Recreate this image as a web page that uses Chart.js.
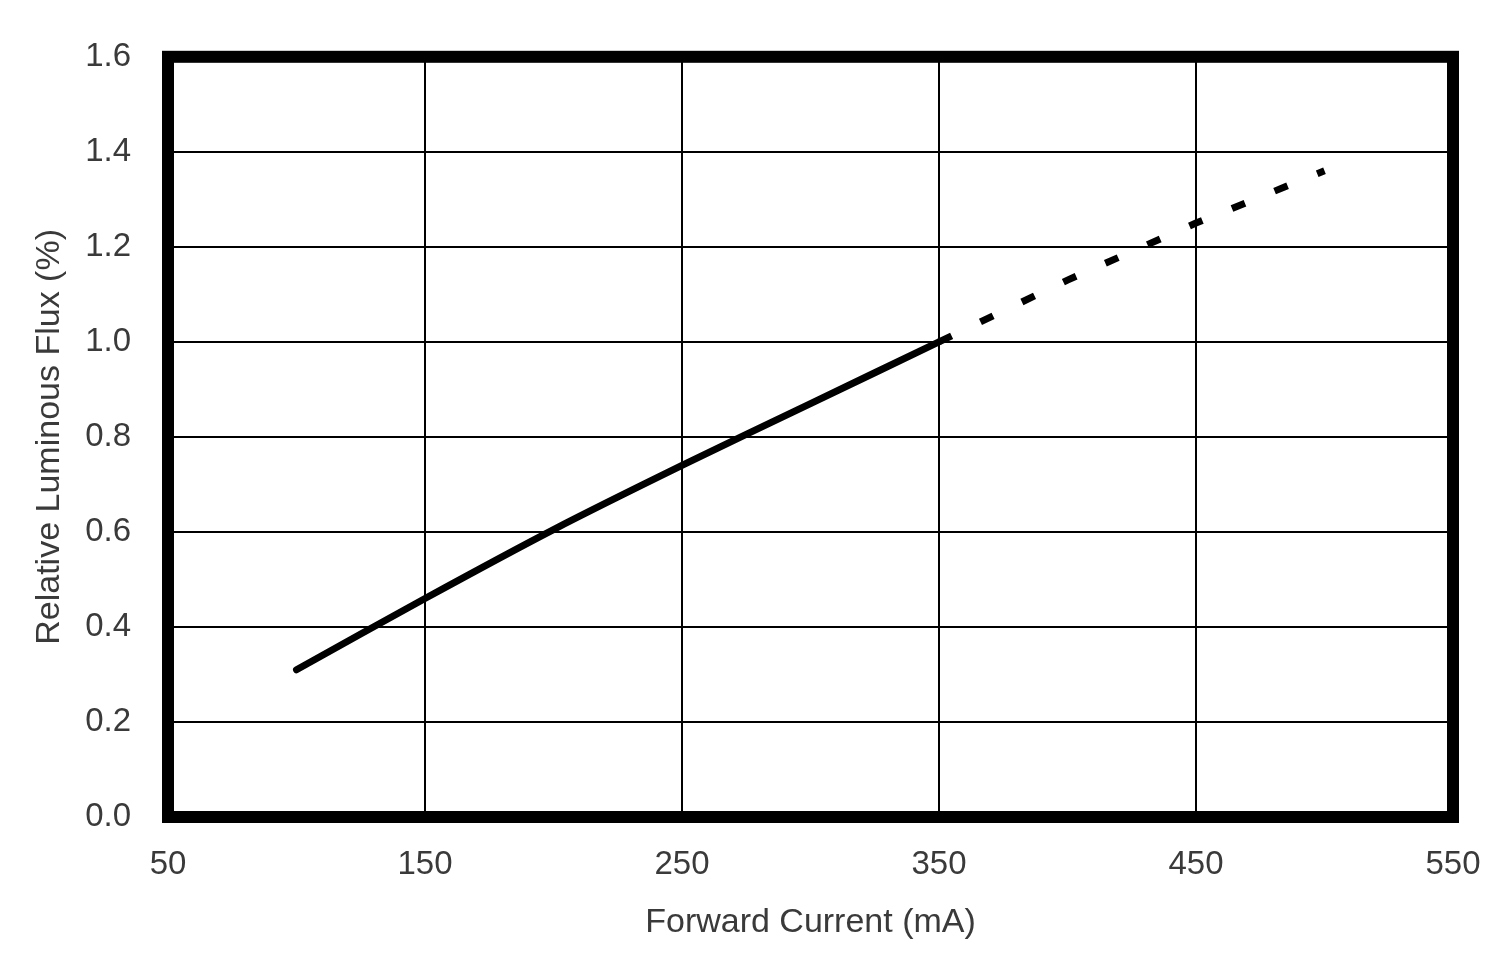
<!DOCTYPE html>
<html>
<head>
<meta charset="utf-8">
<title>Relative Luminous Flux vs Forward Current</title>
<script src="https://cdn.jsdelivr.net/npm/chart.js@4"></script>
<style>
  html, body { margin: 0; padding: 0; background: #fff; }
  #wrap { width: 1512px; height: 976px; }
</style>
</head>
<body>
<div id="wrap"><canvas id="fluxChart" width="1512" height="976"></canvas></div>
<script>
// measured curve (solid) and extrapolated part (dashed)
const measuredCurrent = [100, 150, 200, 250, 300, 350];
const measuredFlux = [0.31, 0.46, 0.605, 0.74, 0.87, 1.0];
const extraCurrent = [350, 400, 450, 500];
const extraFlux = [1.0, 1.13, 1.25, 1.36];

const xTicks = [50, 150, 250, 350, 450, 550];
const yTicks = [0, 0.2, 0.4, 0.6, 0.8, 1.0, 1.2, 1.4, 1.6];

const xTitle = 'Forward Current (mA)';
const yTitle = 'Relative Luminous Flux (%)';

const textColor = '#3a3a3a';
const fontFamily = "'Liberation Sans', Arial, sans-serif";

function toPoints(xs, ys) {
  return xs.map((x, i) => ({ x: x, y: ys[i] }));
}

// thick black frame round the plot area
const framePlugin = {
  id: 'frame',
  afterDraw(chart) {
    const { ctx, chartArea: a } = chart;
    ctx.save();
    ctx.strokeStyle = '#000';
    ctx.lineWidth = 12;
    ctx.lineJoin = 'miter';
    ctx.strokeRect(a.left, a.top, a.right - a.left, a.bottom - a.top);
    ctx.restore();
  }
};

document.addEventListener('DOMContentLoaded', () => {
  const ctx = document.getElementById('fluxChart');
  new Chart(ctx, {
    type: 'line',
    data: {
      datasets: [
        {
          label: 'measured',
          data: toPoints(measuredCurrent, measuredFlux),
          borderColor: '#000',
          borderWidth: 7,
          borderCapStyle: 'round',
          pointRadius: 0,
          tension: 0.3,
          fill: false
        },
        {
          label: 'extrapolated',
          data: toPoints(extraCurrent, extraFlux),
          borderColor: '#000',
          borderWidth: 7,
          borderDash: [14, 32],
          borderCapStyle: 'butt',
          pointRadius: 0,
          tension: 0,
          fill: false
        }
      ]
    },
    options: {
      responsive: false,
      animation: false,
      devicePixelRatio: 1,
      layout: { padding: { left: 0, top: 56, right: 59, bottom: 0 } },
      plugins: {
        legend: { display: false },
        tooltip: { enabled: false }
      },
      scales: {
        x: {
          type: 'linear',
          min: xTicks[0],
          max: xTicks[xTicks.length - 1],
          afterBuildTicks: (scale) => { scale.ticks = xTicks.map(v => ({ value: v })); },
          afterFit: (scale) => { scale.height = 159; },
          grid: { color: '#000', lineWidth: 2, drawTicks: false },
          border: { display: false },
          ticks: {
            padding: 28,
            color: textColor,
            font: { family: fontFamily, size: 33 },
            maxRotation: 0,
            callback: (v) => String(v)
          },
          title: {
            display: true,
            text: xTitle,
            color: textColor,
            font: { family: fontFamily, size: 34 },
            padding: { top: 0, bottom: 33 }
          }
        },
        y: {
          type: 'linear',
          min: yTicks[0],
          max: yTicks[yTicks.length - 1],
          afterBuildTicks: (scale) => { scale.ticks = yTicks.map(v => ({ value: v })); },
          afterFit: (scale) => { scale.width = 168; },
          grid: { color: '#000', lineWidth: 2, drawTicks: false },
          border: { display: false },
          ticks: {
            padding: 37,
            color: textColor,
            font: { family: fontFamily, size: 33 },
            callback: (v) => Number(v).toFixed(1)
          },
          title: {
            display: true,
            text: yTitle,
            color: textColor,
            font: { family: fontFamily, size: 34 },
            padding: { top: 29, bottom: 0 }
          }
        }
      }
    },
    plugins: [framePlugin]
  });
});
</script>
</body>
</html>
